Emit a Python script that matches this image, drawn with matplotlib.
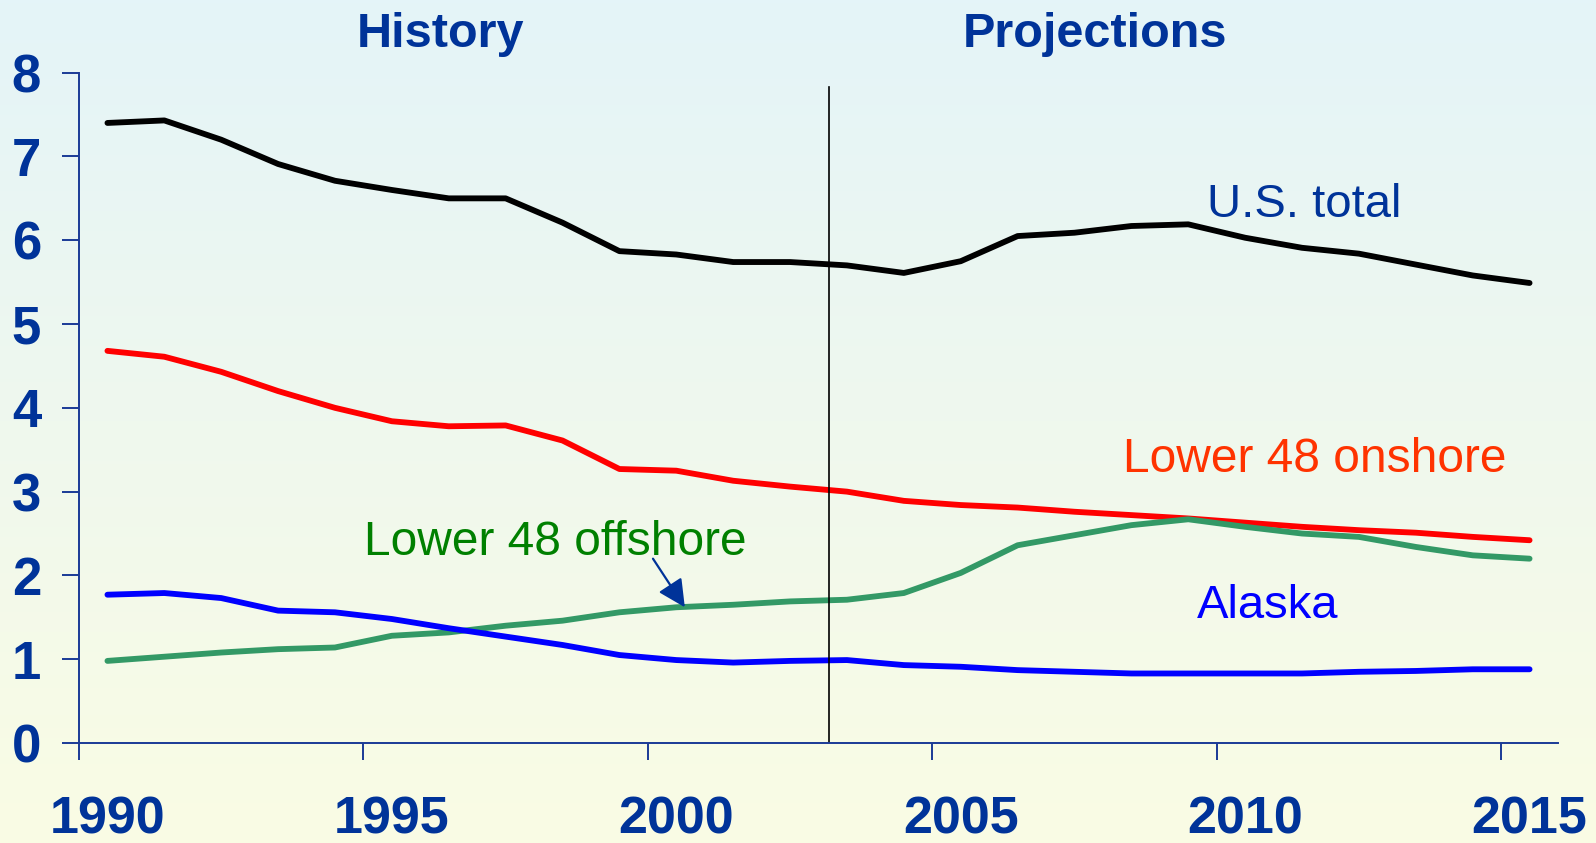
import numpy as np
import matplotlib
matplotlib.use("Agg")
import matplotlib.pyplot as plt

plt.rcParams['font.family'] = ['Liberation Sans', 'DejaVu Sans']

# data: one value per year, drawn at the middle of each year's slot
years = np.arange(1990, 2016)
us_total = [7.40, 7.43, 7.20, 6.91, 6.71, 6.60, 6.50, 6.50, 6.21, 5.87, 5.83, 5.74, 5.74,
            5.70, 5.61, 5.75, 6.05, 6.09, 6.17, 6.19, 6.03, 5.91, 5.84, 5.71, 5.58, 5.49]
onshore = [4.68, 4.61, 4.43, 4.20, 4.00, 3.84, 3.78, 3.79, 3.61, 3.27, 3.25, 3.13, 3.06,
           3.00, 2.89, 2.84, 2.81, 2.76, 2.72, 2.68, 2.63, 2.58, 2.54, 2.51, 2.46, 2.42]
offshore = [0.98, 1.03, 1.08, 1.12, 1.14, 1.28, 1.32, 1.40, 1.46, 1.56, 1.62, 1.65, 1.69,
            1.71, 1.79, 2.03, 2.36, 2.48, 2.60, 2.67, 2.58, 2.50, 2.46, 2.34, 2.24, 2.20]
alaska = [1.77, 1.79, 1.73, 1.58, 1.56, 1.48, 1.37, 1.27, 1.17, 1.05, 0.99, 0.96, 0.98,
          0.99, 0.93, 0.91, 0.87, 0.85, 0.83, 0.83, 0.83, 0.83, 0.85, 0.86, 0.88, 0.88]
tick_years = [1990, 1995, 2000, 2005, 2010, 2015]
split_year = 2003.18

navy = '#003399'
axis_blue = '#1a3a96'

fig = plt.figure(figsize=(15.96, 8.43), dpi=100)

# gradient background
bg = fig.add_axes([0, 0, 1, 1], zorder=-10)
top = np.array([228, 244, 248]) / 255
bot = np.array([250, 252, 228]) / 255
t = np.linspace(0, 1, 256)[:, None]
grad = (top[None, :] * (1 - t) + bot[None, :] * t)[:, None, :]
bg.imshow(grad, aspect='auto', extent=[0, 1, 0, 1])
bg.axis('off')

ax = fig.add_axes([0.0495, 0.1186, 0.9267, 0.7952])
ax.set_facecolor('none')

x = years + 0.5
lw = 4.2
style = dict(lw=lw, solid_capstyle='round', solid_joinstyle='round')
ax.plot(x, us_total, color='black', **style)
ax.plot(x, onshore, color='#ff0000', **style)
ax.plot(x, offshore, color='#339966', **style)
ax.plot(x, alaska, color='#0000ff', **style)

ax.plot([split_year, split_year], [0, 7.83], color='black', lw=1.2)

ax.set_xlim(1990, 2016)
ax.set_ylim(0, 8)

for s in ['top', 'right']:
    ax.spines[s].set_visible(False)
for s in ['left', 'bottom']:
    ax.spines[s].set_color(axis_blue)
    ax.spines[s].set_linewidth(1.4)

ax.set_yticks(range(0, 9))
ax.tick_params(axis='y', direction='out', length=12.2, width=1.4, color=axis_blue,
               pad=15, labelsize=38, labelcolor=navy)
for lab in ax.get_yticklabels():
    lab.set_fontweight('bold')

ax.set_xticks(tick_years)
ax.set_xticklabels([])
ax.tick_params(axis='x', which='major', direction='out', length=12.2, width=1.4, color=axis_blue)
ax.set_xticks([y + 0.5 for y in tick_years], minor=True)
ax.set_xticklabels([str(y) for y in tick_years], minor=True, fontweight='bold')
ax.tick_params(axis='x', which='minor', length=0, pad=38, labelsize=37.5, labelcolor=navy)

ax.text(1996.35, 8.31, 'History', ha='center', va='baseline', fontsize=35,
        fontweight='bold', color=navy, clip_on=False)
ax.text(2007.86, 8.31, 'Projections', ha='center', va='baseline', fontsize=35,
        fontweight='bold', color=navy, clip_on=False)

ax.text(2009.83, 6.28, 'U.S. total', fontsize=34, color=navy, va='baseline')
ax.text(2008.35, 3.24, 'Lower 48 onshore', fontsize=34.5, color='#ff3300', va='baseline')
ax.text(2009.66, 1.49, 'Alaska', fontsize=34, color='#0000ff', va='baseline')
ax.text(1995.01, 2.245, 'Lower 48 offshore', fontsize=34.5, color='#008000', va='baseline')

ax.annotate('', xy=(2000.65, 1.62), xytext=(2000.09, 2.20),
            arrowprops=dict(arrowstyle='-|>', color=navy, lw=1.6, mutation_scale=42,
                            shrinkA=0, shrinkB=0))

fig.savefig('out.png', dpi=100)
